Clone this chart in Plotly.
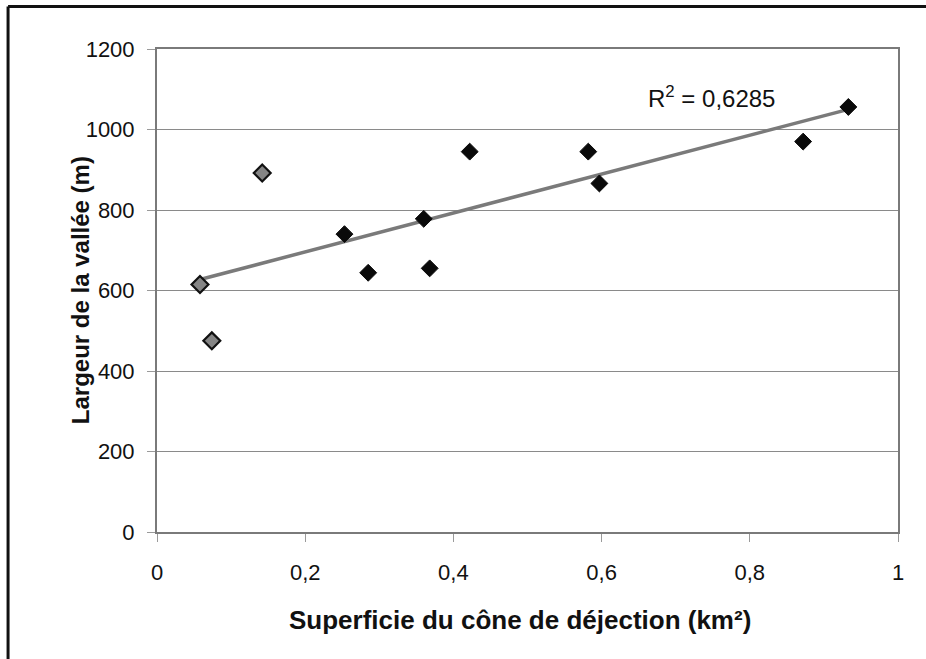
import numpy as np
import plotly.graph_objects as go

# Data
x_grey = [0.058, 0.074, 0.142]
y_grey = [615, 475, 892]
x_black = [0.253, 0.285, 0.360, 0.368, 0.422, 0.582, 0.597, 0.872, 0.933]
y_black = [740, 644, 778, 655, 945, 945, 866, 970, 1056]
r2_label = "R<sup>2</sup> = 0,6285"
x_title = "Superficie du cône de déjection (km²)"
y_title = "Largeur de la vallée (m)"
x_ticks = [0, 0.2, 0.4, 0.6, 0.8, 1]
x_ticklabels = ["0", "0,2", "0,4", "0,6", "0,8", "1"]
y_ticks = [0, 200, 400, 600, 800, 1000, 1200]

# linear trendline through all points
xa = np.array(x_grey + x_black)
ya = np.array(y_grey + y_black)
slope, intercept = np.polyfit(xa, ya, 1)
xt = np.array([xa.min(), xa.max()])
yt = slope * xt + intercept

FONT = "Liberation Sans, Arial, sans-serif"

fig = go.Figure()
fig.add_trace(go.Scatter(x=xt, y=yt, mode="lines",
                         line=dict(color="#7a7a7a", width=3.5),
                         hoverinfo="skip", showlegend=False))
fig.add_trace(go.Scatter(x=x_grey, y=y_grey, mode="markers",
                         marker=dict(symbol="diamond", size=13, color="#858585",
                                     line=dict(color="#111111", width=2.2)),
                         showlegend=False))
fig.add_trace(go.Scatter(x=x_black, y=y_black, mode="markers",
                         marker=dict(symbol="diamond", size=13, color="#0a0a0a",
                                     line=dict(color="#0a0a0a", width=1)),
                         showlegend=False))

fig.add_annotation(x=0.748, y=1081, xref="x", yref="y", text=r2_label,
                   showarrow=False, font=dict(family=FONT, size=24, color="#111111"))

# axis titles
fig.add_annotation(x=0.49, y=-0.182, xref="paper", yref="paper",
                   xanchor="center", yanchor="middle", showarrow=False,
                   text="<b>" + x_title + "</b>",
                   font=dict(family=FONT, size=26, color="#111111"))
fig.add_annotation(x=-0.103, y=0.5, xref="paper", yref="paper",
                   xanchor="center", yanchor="middle", showarrow=False,
                   textangle=-90, text="<b>" + y_title + "</b>",
                   font=dict(family=FONT, size=24, color="#111111"))

# outer frame (left and top visible)
fig.add_shape(type="line", xref="paper", yref="paper",
              x0=-0.201, x1=-0.201, y0=-0.4, y1=1.088,
              line=dict(color="#111111", width=3))
fig.add_shape(type="line", xref="paper", yref="paper",
              x0=-0.201, x1=1.2, y0=1.088, y1=1.088,
              line=dict(color="#111111", width=3))

fig.update_layout(
    width=926, height=659,
    margin=dict(l=157, r=28, t=49, b=127),
    paper_bgcolor="white", plot_bgcolor="white",
    font=dict(family=FONT, size=22, color="#111111"),
    xaxis=dict(range=[0, 1], tickvals=x_ticks, ticktext=x_ticklabels,
               showgrid=False, zeroline=False,
               showline=True, linecolor="#7a7a7a", linewidth=2, mirror=True,
               ticks="outside", ticklen=8, tickcolor="#9a9a9a", tickwidth=1,
               ticklabelstandoff=12,
               tickfont=dict(family=FONT, size=22)),
    yaxis=dict(range=[0, 1200], tickvals=y_ticks,
               showgrid=True, gridcolor="#8a8a8a", gridwidth=1, zeroline=False,
               showline=True, linecolor="#7a7a7a", linewidth=2, mirror=True,
               ticks="outside", ticklen=8, tickcolor="#9a9a9a", tickwidth=1,
               ticklabelstandoff=8,
               tickfont=dict(family=FONT, size=22)),
)

fig.write_html("out.html", config={"displayModeBar": False},
               post_script="document.body.style.margin='0';")
